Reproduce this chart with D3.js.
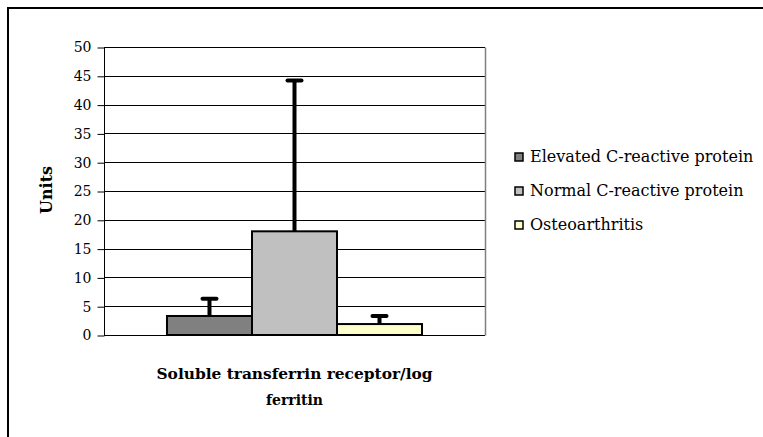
<!DOCTYPE html>
<html>
<head>
<meta charset="utf-8">
<script src="https://cdn.jsdelivr.net/npm/d3@7"></script>
<style>
  html, body { margin: 0; padding: 0; background: #fff; }
  svg { display: block; }
  svg text { font-family: "DejaVu Serif", "Liberation Serif", serif; }
</style>
</head>
<body>
<svg id="chart" width="763" height="437"></svg>
<script>
const categories = ["Soluble transferrin receptor/log ferritin"];
const seriesNames = ["Elevated C-reactive protein", "Normal C-reactive protein", "Osteoarthritis"];
const seriesValues = [3.3, 18.0, 1.9];
const errorTops = [6.3, 44.2, 3.3];
const seriesColors = ["#808080", "#c0c0c0", "#ffffcc"];
const yTicks = [0, 5, 10, 15, 20, 25, 30, 35, 40, 45, 50];
const xLabelLines = ["Soluble transferrin receptor/log", "ferritin"];
const yLabel = "Units";

const svg = d3.select("#chart");

// outer frame (extends beyond window)
svg.append("rect").attr("x", 8).attr("y", 8).attr("width", 900).attr("height", 600)
  .attr("fill", "#fff").attr("stroke", "#000").attr("stroke-width", 2);

const plot = { left: 104, right: 485, top: 47, bottom: 335 };

const y = d3.scaleLinear().domain([0, 50]).range([plot.bottom, plot.top]);
const x0 = d3.scaleBand().domain(categories).range([plot.left, plot.right]).paddingInner(0).paddingOuter(0.247);
const x1 = d3.scaleBand().domain(seriesNames).range([0, x0.bandwidth()]).padding(0);

// gridlines
svg.append("g").selectAll("line").data(yTicks).join("line")
  .attr("x1", plot.left).attr("x2", plot.right)
  .attr("y1", d => Math.round(y(d)) + 0.5).attr("y2", d => Math.round(y(d)) + 0.5)
  .attr("stroke", "#000").attr("stroke-width", 1);

// plot right border
svg.append("line").attr("x1", plot.right + 0.5).attr("x2", plot.right + 0.5)
  .attr("y1", Math.round(y(50)) + 0.5).attr("y2", Math.round(y(0)) + 0.5)
  .attr("stroke", "#808080").attr("stroke-width", 1.5);

// y axis
const yAxis = d3.axisLeft(y).tickValues(yTicks).tickSize(7).tickPadding(6);
const gy = svg.append("g").attr("transform", `translate(${plot.left + 0.5},0.5)`).call(yAxis);
gy.attr("font-family", null).attr("font-size", null);
gy.select(".domain").attr("stroke", "#000").attr("d", `M0,${Math.round(y(50))}V${Math.round(y(0))}`);
gy.selectAll(".tick line").attr("stroke", "#000");
gy.selectAll(".tick text").attr("font-size", 14).attr("fill", "#000");

// bars
const gBars = svg.append("g");
categories.forEach(cat => {
  seriesNames.forEach((s, i) => {
    const bx = x0(cat) + x1(s);
    gBars.append("rect")
      .attr("x", bx).attr("y", y(seriesValues[i]))
      .attr("width", x1.bandwidth()).attr("height", y(0) - y(seriesValues[i]))
      .attr("fill", seriesColors[i]).attr("stroke", "#000").attr("stroke-width", 2);
  });
});

// error bars
const gErr = svg.append("g");
categories.forEach(cat => {
  seriesNames.forEach((s, i) => {
    const cx = x0(cat) + x1(s) + x1.bandwidth() / 2;
    gErr.append("line").attr("x1", cx).attr("x2", cx)
      .attr("y1", y(seriesValues[i])).attr("y2", y(errorTops[i]))
      .attr("stroke", "#000").attr("stroke-width", 4);
    gErr.append("line").attr("x1", cx - 7).attr("x2", cx + 7)
      .attr("y1", y(errorTops[i])).attr("y2", y(errorTops[i]))
      .attr("stroke", "#000").attr("stroke-width", 4).attr("stroke-linecap", "round");
  });
});

// y label
svg.append("text")
  .attr("transform", `translate(52,${(plot.top + plot.bottom) / 2 - 1}) rotate(-90)`)
  .attr("text-anchor", "middle").attr("font-size", 16).attr("font-weight", "bold")
  .text(yLabel);

// x label
const cx = (plot.left + plot.right) / 2;
svg.append("text").attr("x", cx).attr("y", 379).attr("text-anchor", "middle")
  .attr("font-size", 14).attr("font-weight", "bold")
  .attr("textLength", 276).attr("lengthAdjust", "spacingAndGlyphs")
  .text(xLabelLines[0]);
svg.append("text").attr("x", cx).attr("y", 405).attr("text-anchor", "middle")
  .attr("font-size", 14).attr("font-weight", "bold").text(xLabelLines[1]);

// legend
const leg = svg.append("g");
seriesNames.forEach((s, i) => {
  const ly = 157 + i * 34;
  leg.append("rect").attr("x", 515).attr("y", ly - 4).attr("width", 8).attr("height", 8)
    .attr("fill", seriesColors[i]).attr("stroke", "#000").attr("stroke-width", 1.5);
  leg.append("text").attr("x", 530).attr("y", ly + 5)
    .attr("font-size", 16).text(s);
});
</script>
</body>
</html>
